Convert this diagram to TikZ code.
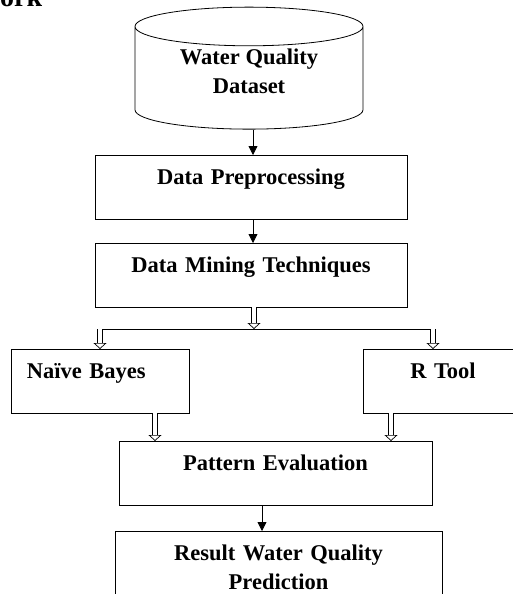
\documentclass[tikz,border=0pt]{standalone}
\usepackage{fontspec}
\setmainfont{Liberation Serif}
\usetikzlibrary{arrows.meta,positioning,calc,shapes.geometric}

\tikzset{
  procbox/.style={draw, line width=0.8pt, inner sep=0pt, align=center,
    text height=29pt, text depth=34.5pt,
    font=\fontsize{22.5}{29}\selectfont\bfseries},
  arr/.style={line width=0.8pt, -{Triangle[width=9pt,length=9pt]}},
  hollowarr/.style={double, double distance=4.5pt, line width=0.7pt,
    -{Triangle[open, width=13pt, length=6pt]}}
}

\begin{document}
\begin{tikzpicture}[x=1pt,y=1pt]
\useasboundingbox (0,0) rectangle (513,-594);

\node[anchor=base west, inner sep=0pt, font=\fontsize{28}{30}\selectfont\bfseries] (head) at (0,-7) {ork};

\node[cylinder, shape border rotate=90, draw, line width=0.8pt, aspect=0.28,
      minimum width=228pt, minimum height=122pt, inner sep=0pt, align=center,
      text depth=14pt,
      font=\fontsize{22.5}{28.5}\selectfont\bfseries] (db) at (249,-78)
      {Water Quality\\Dataset};

\node[procbox, text width=312pt, anchor=north] (pre) at (251,-155) {Data Preprocessing};
\node[procbox, text width=312pt, anchor=north] (mine) at (251,-243) {Data Mining Techniques};
\node[procbox, text width=146pt, inner xsep=16pt, align=left, anchor=north] (nb) at (100,-349) {Naïve Bayes};
\node[procbox, text width=160pt, anchor=north] (rt) at (443,-349) {R Tool};
\node[procbox, text width=313pt, anchor=north] (eval) at (275.5,-441) {Pattern Evaluation};
\node[procbox, text width=327pt, text depth=45pt, anchor=north] (res) at (278.5,-531) {Result Water Quality\\Prediction};

\coordinate (split) at (254,-329);
\coordinate (splitL) at (100,-329);
\coordinate (splitR) at (433,-329);

\draw[arr] ([xshift=4pt]db.south) -- ([xshift=4pt]db.south |- pre.north);
\draw[arr] ([xshift=2pt]pre.south) -- ([xshift=2pt]mine.north);
\draw[hollowarr] ([xshift=3pt]mine.south) -- (split);
\draw[line width=0.8pt] (splitL) -- (splitR);
\draw[hollowarr] (splitL) -- (splitL |- nb.north);
\draw[hollowarr] (splitR) -- (splitR |- rt.north);
\draw[hollowarr] ([xshift=55pt]nb.south) -- ([xshift=55pt]nb.south |- eval.north);
\draw[hollowarr] ([xshift=-52pt]rt.south) -- ([xshift=-52pt]rt.south |- eval.north);
\draw[arr] ([xshift=-13.5pt]eval.south) -- ([xshift=-13.5pt]eval.south |- res.north);
\end{tikzpicture}
\end{document}
